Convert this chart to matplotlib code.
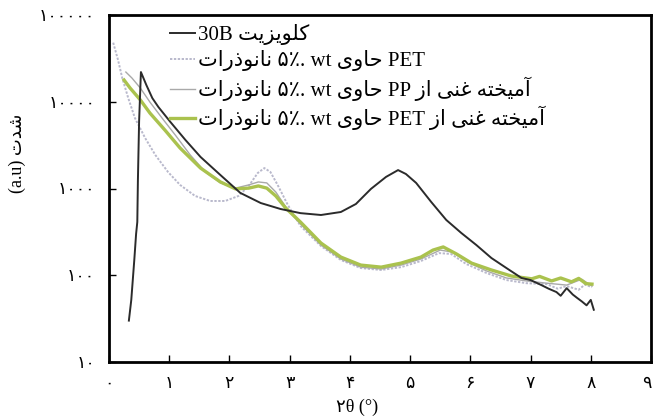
import matplotlib
matplotlib.use('Agg')
import matplotlib.pyplot as plt
from matplotlib.lines import Line2D
from matplotlib.ticker import FixedLocator, NullLocator
from matplotlib.transforms import ScaledTranslation

plt.rcParams['font.family'] = ['Liberation Serif', 'DejaVu Sans']

# XRD patterns: 2theta (deg) and intensity (a.u.)
theta_30b = [0.33, 0.37, 0.42, 0.45, 0.47, 0.48, 0.50, 0.53, 0.62, 0.72, 0.82, 1.02,
             1.27, 1.52, 1.85, 2.18, 2.52, 2.85, 3.18, 3.52, 3.85, 4.10, 4.35, 4.60,
             4.80, 4.93, 5.10, 5.35, 5.60, 5.85, 6.10, 6.35, 6.60, 6.85, 7.00, 7.18,
             7.30, 7.43, 7.50, 7.60, 7.70, 7.77, 7.85, 7.93, 8.00, 8.05]
int_30b = [30, 52, 150, 300, 411, 1250, 6000, 22000, 15600, 11000, 8700, 5840,
           3620, 2310, 1430, 890, 680, 580, 520, 495, 536, 663, 990, 1360,
           1630, 1470, 1160, 700, 434, 307, 223, 158, 121, 93, 88, 77,
           70, 64, 58, 71, 60, 55, 50, 45, 52, 40]

theta_pet = [0.07, 0.15, 0.22, 0.32, 0.43, 0.60, 0.77, 0.98, 1.18, 1.43, 1.68, 1.93,
             2.15, 2.32, 2.47, 2.58, 2.68, 2.80, 2.97, 3.18, 3.52, 3.85, 4.18, 4.52,
             4.85, 5.18, 5.48, 5.68, 5.93, 6.27, 6.60, 6.93, 7.27, 7.45, 7.60, 7.80,
             7.90, 8.02]
int_pet = [48000, 30300, 18800, 11000, 6500, 3820, 2430, 1550, 1100, 820, 718, 718,
           820, 1070, 1510, 1720, 1550, 1100, 645, 370, 217, 150, 121, 115,
           124, 146, 180, 176, 135, 106, 88, 81, 79, 70, 75, 68,
           78, 73]

theta_pp = [0.28, 0.38, 0.52, 0.68, 0.88, 1.10, 1.35, 1.60, 1.85, 2.10, 2.32, 2.48,
            2.62, 2.77, 2.97, 3.18, 3.52, 3.85, 4.18, 4.52, 4.85, 5.18, 5.50, 5.70,
            5.95, 6.27, 6.60, 6.93, 7.27, 7.60, 7.85, 8.02]
int_pp = [22000, 18800, 14400, 9900, 6500, 4140, 2430, 1550, 1160, 1010, 1100, 1190,
          1160, 910, 565, 390, 223, 154, 124, 118, 131, 154, 195, 185,
          142, 112, 93, 86, 81, 77, 90, 75]

theta_blend = [0.25, 0.35, 0.52, 0.68, 0.93, 1.18, 1.52, 1.85, 2.10, 2.32, 2.48, 2.62,
               2.77, 2.93, 3.18, 3.52, 3.85, 4.18, 4.52, 4.85, 5.18, 5.38, 5.55, 5.77,
               6.02, 6.35, 6.68, 7.02, 7.15, 7.35, 7.50, 7.68, 7.80, 7.92, 8.02]
int_blend = [17800, 14400, 10500, 7400, 4700, 2930, 1720, 1190, 990, 1010, 1070, 1010,
             820, 600, 410, 235, 162, 131, 124, 138, 162, 195, 212, 176,
             138, 115, 98, 91, 97, 86, 93, 84, 92, 80, 79]

labels = ['کلویزیت 30B',
          'PET حاوی wt ۵٪. نانوذرات',
          'آمیخته غنی از PP حاوی wt ۵٪. نانوذرات',
          'آمیخته غنی از PET حاوی wt ۵٪. نانوذرات']

x_ticks = [0, 1, 2, 3, 4, 5, 6, 7, 8, 9]
x_ticklabels = ['۰', '۱', '۲', '۳', '۴', '۵', '۶', '۷', '۸', '۹']
y_ticks = [10, 100, 1000, 10000, 100000]
y_ticklabels = ['۱۰', '۱۰۰', '۱۰۰۰', '۱۰۰۰۰', '۱۰۰۰۰۰']

# presentation forms: isolated, final, initial, medial
FORMS = {
    'ا': ('\uFE8D', '\uFE8E', None, None),
    'آ': ('\uFE81', '\uFE82', None, None),
    'د': ('\uFEA9', '\uFEAA', None, None),
    'ذ': ('\uFEAB', '\uFEAC', None, None),
    'ر': ('\uFEAD', '\uFEAE', None, None),
    'ز': ('\uFEAF', '\uFEB0', None, None),
    'و': ('\uFEED', '\uFEEE', None, None),
    'ت': ('\uFE95', '\uFE96', '\uFE97', '\uFE98'),
    'ح': ('\uFEA1', '\uFEA2', '\uFEA3', '\uFEA4'),
    'خ': ('\uFEA5', '\uFEA6', '\uFEA7', '\uFEA8'),
    'ش': ('\uFEB5', '\uFEB6', '\uFEB7', '\uFEB8'),
    'غ': ('\uFECD', '\uFECE', '\uFECF', '\uFED0'),
    'ل': ('\uFEDD', '\uFEDE', '\uFEDF', '\uFEE0'),
    'م': ('\uFEE1', '\uFEE2', '\uFEE3', '\uFEE4'),
    'ن': ('\uFEE5', '\uFEE6', '\uFEE7', '\uFEE8'),
    'ه': ('\uFEE9', '\uFEEA', '\uFEEB', '\uFEEC'),
    'ک': ('\uFB8E', '\uFB8F', '\uFB90', '\uFB91'),
    'ی': ('\uFBFC', '\uFBFD', '\uFBFE', '\uFBFF'),
}


def shape(word):
    out = []
    for i, ch in enumerate(word):
        if ch not in FORMS:
            out.append(ch)
            continue
        prev = word[i - 1] if i > 0 else ''
        nxt = word[i + 1] if i + 1 < len(word) else ''
        join_prev = prev in FORMS and FORMS[prev][2] is not None
        join_next = nxt in FORMS and FORMS[ch][2] is not None
        iso, fin, ini, med = FORMS[ch]
        if join_prev and join_next:
            out.append(med)
        elif join_prev:
            out.append(fin)
        elif join_next:
            out.append(ini)
        else:
            out.append(iso)
    return ''.join(out)


def rtl(text):
    # matplotlib lays glyphs left to right, so order the words by hand
    parts = []
    for w in reversed(text.split(' ')):
        if any(c in FORMS for c in w):
            parts.append(shape(w)[::-1])
        else:
            parts.append(w)
    return ' '.join(parts)


fig = plt.figure(figsize=(6.54, 4.16), dpi=100)
ax = fig.add_axes([109 / 654, 54 / 416, 542 / 654, 347 / 416])

styles = [
    dict(color='#2b2b2b', lw=1.4, zorder=4),
    dict(color='#b9b9cc', lw=1.4, ls=(0, (1.2, 0.8)), zorder=1),
    dict(color='#a9a9a9', lw=1.0, zorder=2),
    dict(color='#aac24e', lw=2.4, zorder=3),
]
series = [(theta_30b, int_30b), (theta_pet, int_pet),
          (theta_pp, int_pp), (theta_blend, int_blend)]
for (tx, iy), st in zip(series, styles):
    ax.plot(tx, iy, **st)

ax.set_yscale('log')
ax.set_xlim(0, 9)
ax.set_ylim(10, 100000)
ax.xaxis.set_major_locator(FixedLocator(x_ticks))
ax.set_xticklabels(x_ticklabels)
ax.yaxis.set_major_locator(FixedLocator(y_ticks))
ax.yaxis.set_minor_locator(NullLocator())
ax.set_yticklabels(y_ticklabels)
ax.tick_params(direction='in', length=5, width=1, labelsize=12.5, pad=10)
for sp in ax.spines.values():
    sp.set_linewidth(2)

# keep the last x label inside the figure
last = ax.get_xticklabels()[-1]
last.set_transform(last.get_transform() + ScaledTranslation(-4 / 100, 0, fig.dpi_scale_trans))

fig.text(357 / 654, 1 - 407 / 416, '۲θ (°)', ha='center', va='center', fontsize=13)
fig.text(17 / 654, 1 - 153 / 416, rtl('شدت (a.u)'), rotation=90,
         ha='center', va='center', fontsize=13)

handles = [Line2D([], [], **st) for st in styles]
ax.legend(handles, [rtl(t) for t in labels], loc='upper left',
          bbox_to_anchor=(61 / 542, 0.974), frameon=False, fontsize=15,
          borderpad=0, borderaxespad=0, handlelength=1.2, handletextpad=0.15,
          labelspacing=0.25)

fig.savefig('out.png', dpi=100)
